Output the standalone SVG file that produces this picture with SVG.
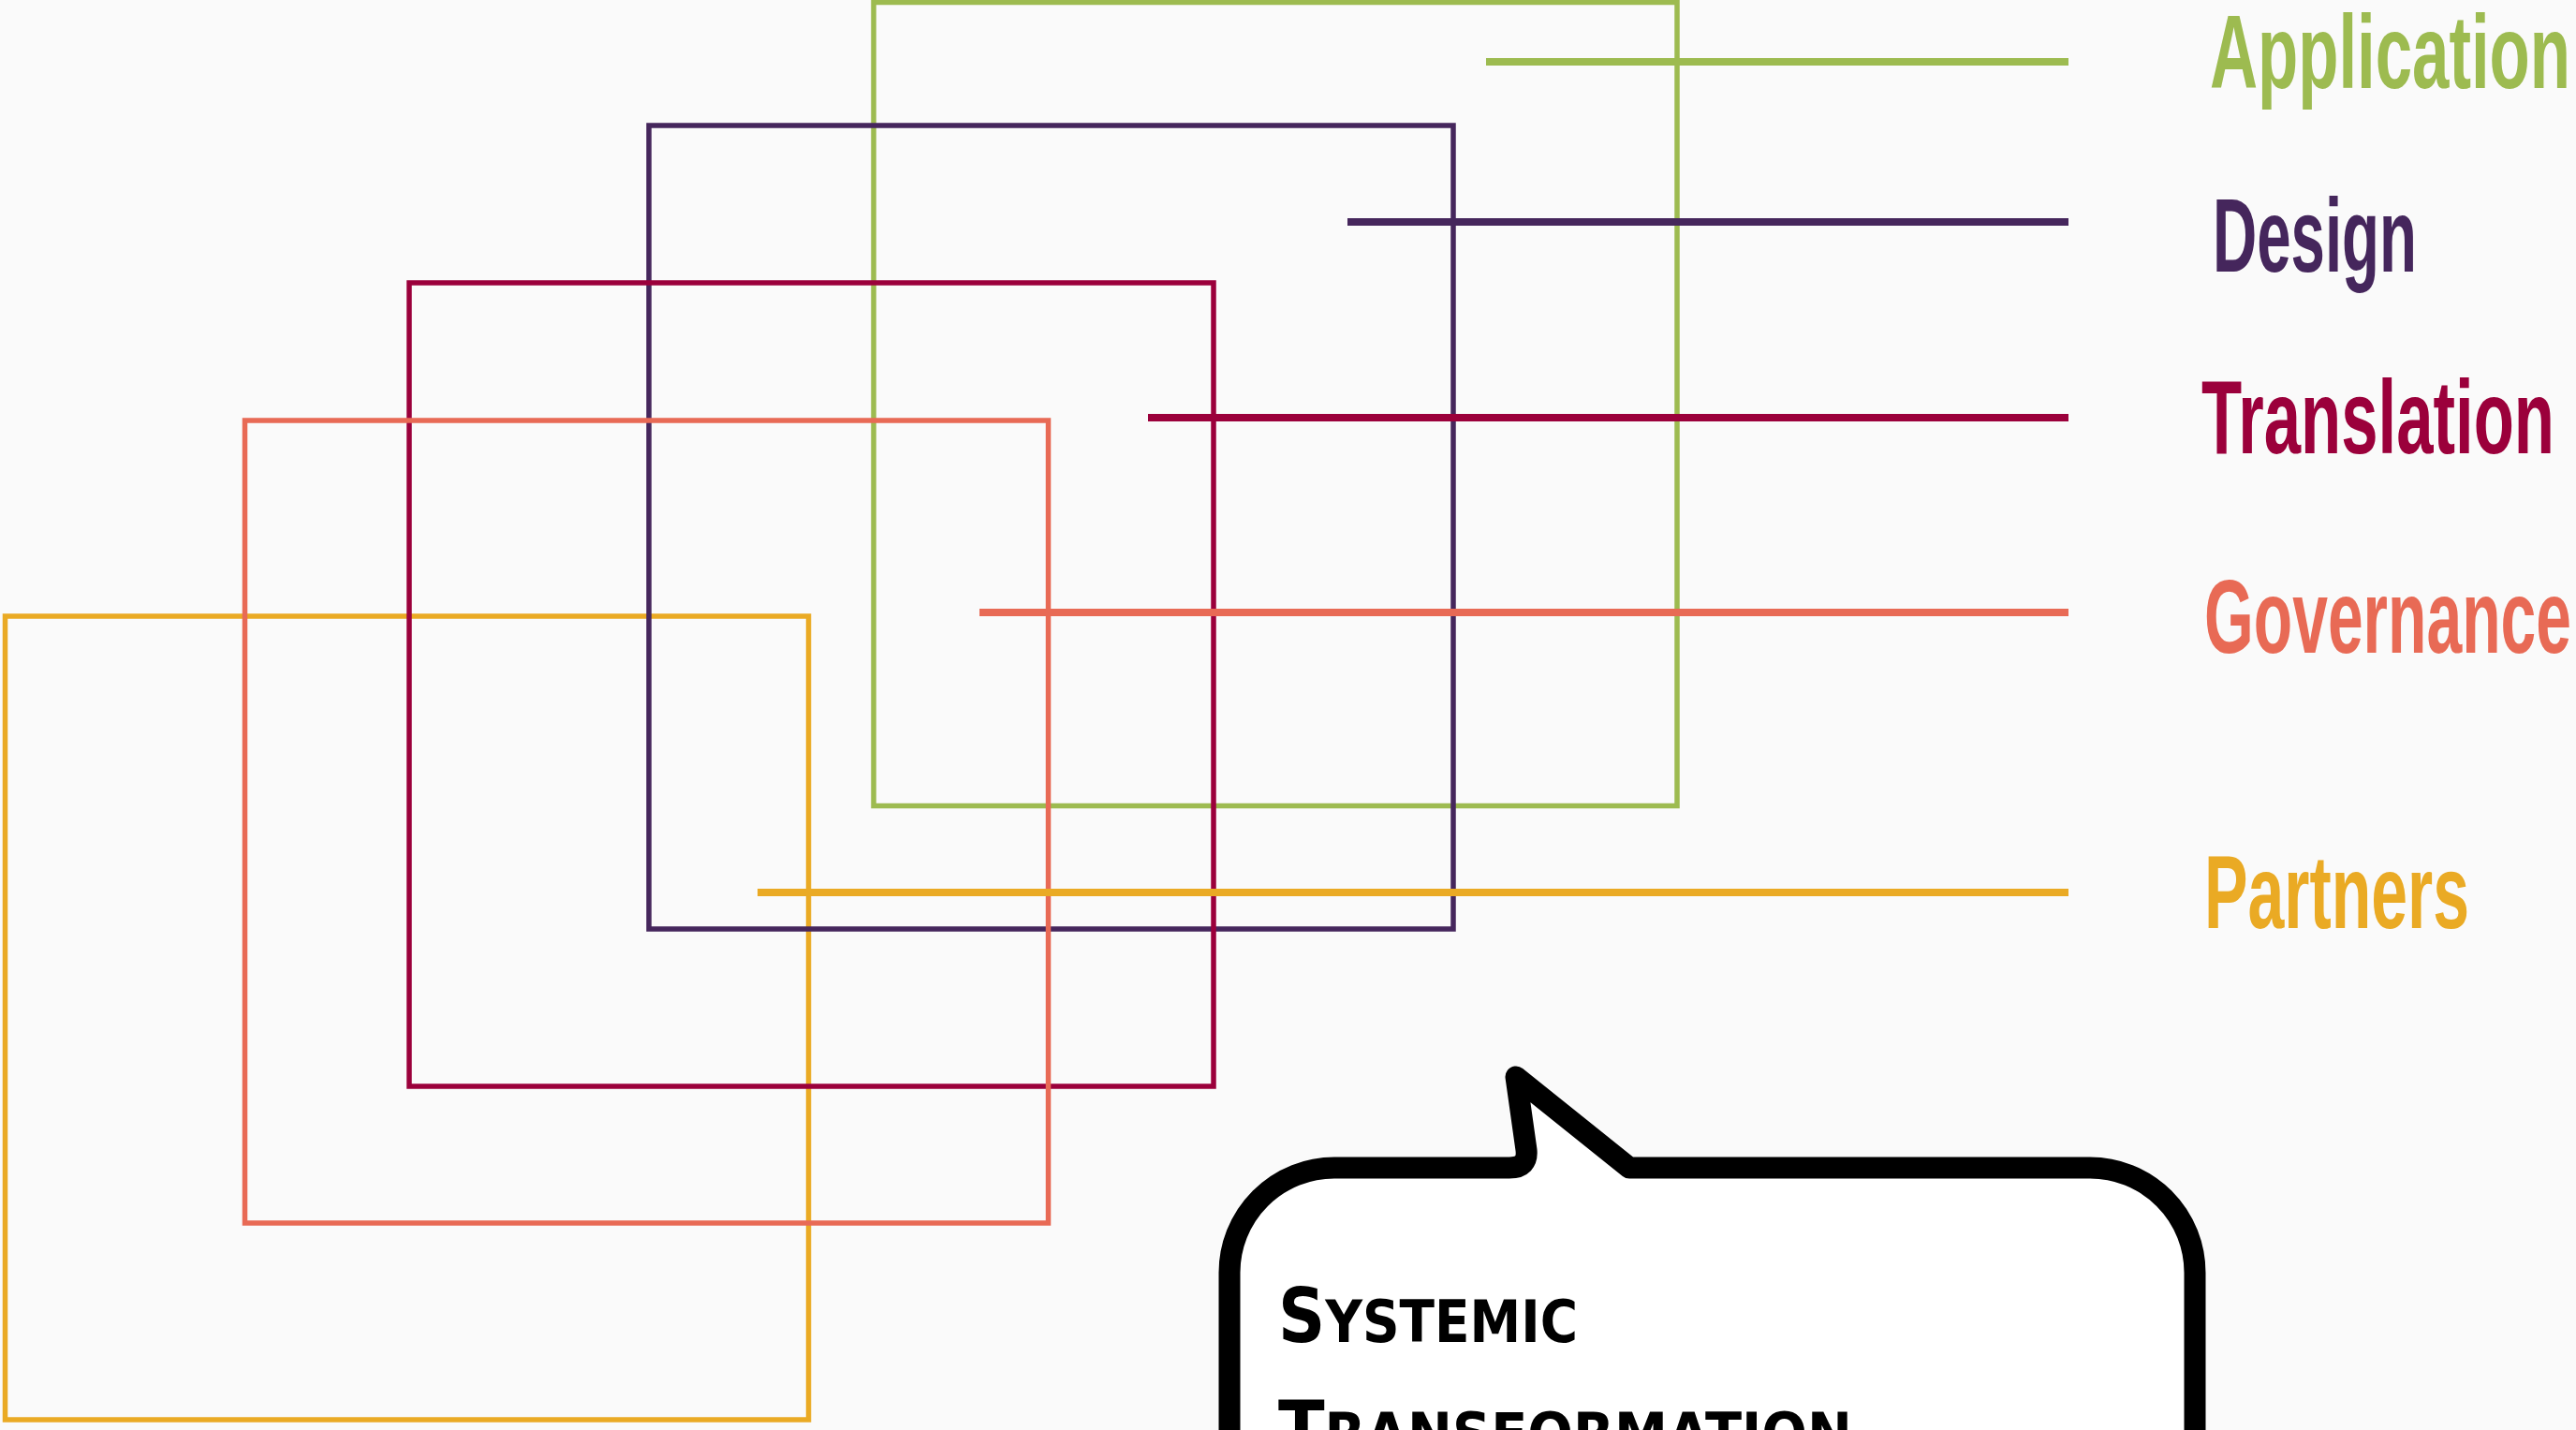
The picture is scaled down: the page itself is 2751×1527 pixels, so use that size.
<svg xmlns="http://www.w3.org/2000/svg" width="2751" height="1527" viewBox="0 0 2751 1527">
  <style>
    .box { fill: none; stroke-width: 5.5; }
    .ln { stroke-width: 8; }
    .lbl { font-family: "Liberation Sans Narrow", "Liberation Sans", Arial, sans-serif; font-weight: bold; font-size: 112px; }
    .hand { font-family: "DejaVu Sans", "Liberation Sans", sans-serif; font-weight: bold; font-size: 63px; fill: #000; }
    .big { font-size: 80px; }
  </style>
  <rect x="0" y="0" width="2751" height="1527" fill="#fafafa"/>
  <g id="nodes">
    <g id="partners-box"><rect class="box" stroke="#eaaa24" x="5.5" y="658" width="858" height="858"/></g>
    <g id="application-box"><rect class="box" stroke="#9dbb50" x="933" y="2.5" width="858" height="858"/></g>
    <g id="design-box"><rect class="box" stroke="#45265c" x="693" y="134" width="859" height="858"/></g>
    <g id="translation-box"><rect class="box" stroke="#9b003b" x="437" y="302" width="859" height="858"/></g>
    <g id="governance-box"><rect class="box" stroke="#e86a55" x="261.5" y="449" width="858" height="857"/></g>
  </g>
  <g id="connectors">
    <line class="ln" stroke="#9dbb50" x1="1587" y1="66" x2="2209" y2="66"/>
    <line class="ln" stroke="#45265c" x1="1439" y1="237" x2="2209" y2="237"/>
    <line class="ln" stroke="#9b003b" x1="1226" y1="446" x2="2209" y2="446"/>
    <line class="ln" stroke="#e86a55" x1="1046" y1="654" x2="2209" y2="654"/>
    <line class="ln" stroke="#eaaa24" x1="809" y1="953" x2="2209" y2="953"/>
  </g>
  <g id="labels">
    <g id="application"><text class="lbl" fill="#9dbb50" x="2360" y="94" textLength="385" lengthAdjust="spacingAndGlyphs">Application</text></g>
    <g id="design"><text class="lbl" fill="#45265c" x="2363" y="290" textLength="218" lengthAdjust="spacingAndGlyphs">Design</text></g>
    <g id="translation"><text class="lbl" fill="#9b003b" x="2351" y="484" textLength="377" lengthAdjust="spacingAndGlyphs">Translation</text></g>
    <g id="governance"><text class="lbl" fill="#e86a55" x="2354" y="697" textLength="392" lengthAdjust="spacingAndGlyphs">Governance</text></g>
    <g id="partners"><text class="lbl" fill="#eaaa24" x="2354" y="991" textLength="283" lengthAdjust="spacingAndGlyphs">Partners</text></g>
  </g>
  <g id="callout">
    <path d="M1313,1700 V1359 A112,112 0 0 1 1425,1247 H1612 Q1632,1247 1630,1228 L1619,1150 L1740,1247 H2232 A112,112 0 0 1 2344,1359 V1700 Z" fill="#ffffff" stroke="#000" stroke-width="23" stroke-linejoin="round"/>
    <text class="hand" x="1365" y="1433" textLength="320" lengthAdjust="spacingAndGlyphs"><tspan class="big">S</tspan>YSTEMIC</text>
    <text class="hand" x="1365" y="1553" textLength="613" lengthAdjust="spacingAndGlyphs"><tspan class="big">T</tspan>RANSFORMATION</text>
  </g>
</svg>
